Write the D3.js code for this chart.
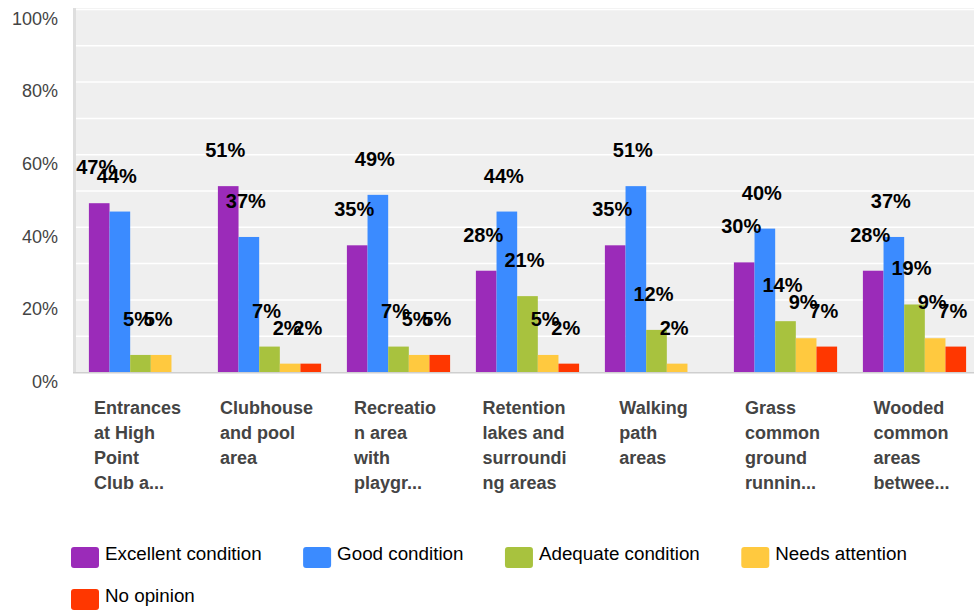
<!DOCTYPE html>
<meta charset="utf-8">
<head>
<title>Condition of common areas</title>
<script src="https://d3js.org/d3.v7.min.js"></script>
<style>
body { margin: 0; background: #fff; }
svg { display: block; font-family: Arial, "Liberation Sans", sans-serif; }
.grid line { stroke: #fff; stroke-width: 1.5; }
.grid path { display: none; }
.yaxis path, .yaxis line { display: none; }
.yaxis text { font-size: 18px; fill: #444; font-family: Arial, "Liberation Sans", sans-serif; }
.val { font-size: 20px; font-weight: bold; fill: #000; }
.cat { font-size: 18px; font-weight: bold; fill: #444; }
.legend text { font-size: 18.8px; fill: #000; }
</style>
</head>
<body>
<script>

// categories and their (already wrapped / truncated) tick labels
var categories = ["Entrances", "Clubhouse", "Recreation", "Retention", "Walking", "Grass", "Wooded"];
var catLines = [
  ["Entrances", "at High", "Point", "Club a..."],
  ["Clubhouse", "and pool", "area"],
  ["Recreatio", "n area", "with", "playgr..."],
  ["Retention", "lakes and", "surroundi", "ng areas"],
  ["Walking", "path", "areas"],
  ["Grass", "common", "ground", "runnin..."],
  ["Wooded", "common", "areas", "betwee..."]
];

var series = ["Excellent condition", "Good condition", "Adequate condition", "Needs attention", "No opinion"];
var colors = ["#9b2bb9", "#3b8bff", "#a8c23e", "#ffc93f", "#ff3700"];

// percentages
var excellent = [46.5, 51.2, 34.9, 27.9, 34.9, 30.2, 27.9];
var good      = [44.2, 37.2, 48.8, 44.2, 51.2, 39.5, 37.2];
var adequate  = [4.7, 7.0, 7.0, 20.9, 11.6, 14.0, 18.6];
var attention = [4.7, 2.3, 4.7, 4.7, 2.3, 9.3, 9.3];
var noOpinion = [0, 2.3, 4.7, 2.3, 0, 7.0, 7.0];
var values = [excellent, good, adequate, attention, noOpinion];

var yTicks = [0, 20, 40, 60, 80, 100];
var gridTicks = [10, 20, 30, 40, 50, 60, 70, 80, 90, 100];

var W = 974, H = 610;
var plotLeft = 76, plotTop = 9, base = 372;

var svg = d3.select("body").append("svg")
    .attr("width", W)
    .attr("height", H);

// scales
var y = d3.scaleLinear().domain([0, 100]).range([base, plotTop]);
var x0 = d3.scaleBand()
    .domain(categories)
    .range([plotLeft, 979])
    .paddingInner(0.2)
    .paddingOuter(0.1);
var x1 = d3.scaleBand()
    .domain(series)
    .range([0, x0.bandwidth()]);

// plot background
svg.append("rect")
    .attr("x", plotLeft).attr("y", plotTop - 1)
    .attr("width", W - plotLeft).attr("height", base - plotTop + 1)
    .attr("fill", "#efefef");

// grid lines
svg.append("g")
    .attr("class", "grid")
    .attr("transform", "translate(" + plotLeft + ",0)")
    .call(d3.axisLeft(y).tickValues(gridTicks).tickSize(-(W - plotLeft)).tickFormat(""));

// left strip and baseline
svg.append("rect")
    .attr("x", 73).attr("y", plotTop - 1)
    .attr("width", 3).attr("height", base - plotTop + 2)
    .attr("fill", "#dedede");
svg.append("rect")
    .attr("x", 73).attr("y", base)
    .attr("width", W - 73).attr("height", 1.5)
    .attr("fill", "#cfcfcf");

// y axis labels
svg.append("g")
    .attr("class", "yaxis")
    .attr("transform", "translate(58,0)")
    .call(d3.axisLeft(y).tickValues(yTicks).tickSize(0).tickPadding(0).tickFormat(function(d) { return d + "%"; }))
    .selectAll("text")
      .attr("y", 9.5);

// bars
var groups = svg.selectAll(".group")
    .data(categories)
  .enter().append("g")
    .attr("class", "group")
    .attr("transform", function(d) { return "translate(" + x0(d) + ",0)"; });

groups.selectAll("rect")
    .data(function(d, i) {
      return series.map(function(s, j) { return {s: s, v: values[j][i], c: colors[j]}; })
        .filter(function(e) { return e.v > 0; });
    })
  .enter().append("rect")
    .attr("x", function(d) { return x1(d.s); })
    .attr("width", x1.bandwidth())
    .attr("y", function(d) { return y(d.v); })
    .attr("height", function(d) { return base - y(d.v); })
    .attr("fill", function(d) { return d.c; });

// value labels
groups.selectAll(".val")
    .data(function(d, i) {
      return series.map(function(s, j) { return {s: s, v: values[j][i]}; })
        .filter(function(e) { return e.v > 0; });
    })
  .enter().append("text")
    .attr("class", "val")
    .attr("text-anchor", "middle")
    .attr("x", function(d) { return x1(d.s) + x1.bandwidth() / 2 - 3; })
    .attr("y", function(d) { return y(d.v) - 29; })
    .text(function(d) { return Math.round(d.v) + "%"; });

// category labels, block centred under group, lines left aligned
categories.forEach(function(c, i) {
  var t = svg.append("text").attr("class", "cat");
  catLines[i].forEach(function(line, k) {
    t.append("tspan")
      .attr("x", 0)
      .attr("y", 413.5 + k * 25)
      .text(line);
  });
  var w = t.node().getBBox().width;
  t.attr("transform", "translate(" + (x0(c) + x0.bandwidth() / 2 - w / 2 - 3) + ",0)");
});

// legend
var legend = svg.append("g").attr("class", "legend");
var lx = 71, ly = 547;
series.forEach(function(s, j) {
  var item = legend.append("g");
  item.append("rect")
    .attr("width", 28).attr("height", 21)
    .attr("rx", 3)
    .attr("fill", colors[j]);
  var txt = item.append("text")
    .attr("x", 34).attr("y", 13)
    .text(s);
  var iw = 34 + txt.node().getComputedTextLength();
  if (lx + iw > W) { lx = 71; ly += 42; }
  item.attr("transform", "translate(" + lx + "," + ly + ")");
  lx += iw + 41.5;
});

</script>
</body>
